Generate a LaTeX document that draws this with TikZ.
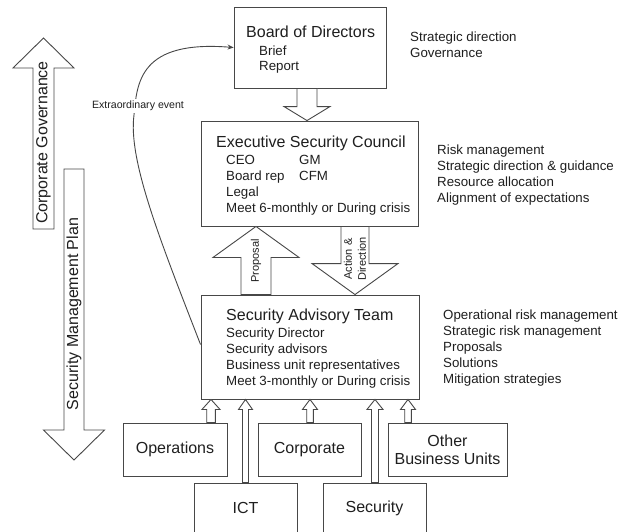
\documentclass[tikz,border=0pt]{standalone}
\usepackage{fontspec}
\setmainfont{Liberation Sans}
\usetikzlibrary{calc,arrows.meta}

\definecolor{linegray}{gray}{0.28}
\definecolor{ink}{gray}{0.12}

\tikzset{
  line/.style={draw=linegray, line width=0.9pt},
  box/.style={line, rectangle, inner sep=0pt, fill=white},
  barrow/.style={line, fill=white, line join=miter},
  title/.style={font=\fontsize{16}{18}\selectfont, text=ink, inner sep=0pt, anchor=base west},
  body/.style={font=\fontsize{13.3}{16}\selectfont, text=ink, inner sep=0pt, anchor=base west},
  unit/.style={box, font=\fontsize{16}{18}\selectfont, text=ink, align=center},
  arrowlabel/.style={font=\fontsize{11}{14}\selectfont, text=ink, inner sep=0pt, rotate=90, align=center},
  sidelabel/.style={font=\fontsize{16}{18}\selectfont, text=ink, inner sep=0pt, rotate=90},
  eventlabel/.style={font=\fontsize{10.6}{12}\selectfont, text=ink, fill=white, inner sep=2pt},
}

% hollow block arrow: [style]{tail}{tip}{shaft half-width}{head half-width}{head length}
\newcommand\blockarrow[6][]{%
  \draw[barrow,#1] let \p1=(#2), \p2=(#3), \p3=($(#3)!#6pt!(#2)$) in
    (\x1-#4pt,\y1) -- (\x1-#4pt,\y3) -- (\x1-#5pt,\y3) -- (\x2,\y2)
    -- (\x1+#5pt,\y3) -- (\x1+#4pt,\y3) -- (\x1+#4pt,\y1) -- cycle;}

\begin{document}
\begin{tikzpicture}[x=1pt,y=-1pt]
\useasboundingbox (0,0) rectangle (618,531);
\fill[white] (0,0) rectangle (618,531);
\clip (0,0) rectangle (618,531);

% governance bodies
\node[box, minimum width=152pt, minimum height=81pt] (bod) at (310,47.5) {};
\node[box, minimum width=217pt, minimum height=105pt] (esc) at (309.5,173.5) {};
\node[box, minimum width=218pt, minimum height=104pt] (sat) at (310,347) {};

% business units
\node[unit, minimum width=104pt, minimum height=53pt] (ops) at (175,449.5) {Operations};
\node[unit, minimum width=103pt, minimum height=53pt] (corp) at (309.5,449.5) {Corporate};
\node[unit, minimum width=119pt, minimum height=53pt] (other) at (447.5,449.5) {Other\\Business Units};
\node[unit, minimum width=103pt, minimum height=50pt] (ict) at (245.5,508) {ICT};
\node[unit, minimum width=103pt, minimum height=50pt] (sec) at (374.5,508) {Security};

% box contents
\node[title] (bod-t) at (246,37.5) {Board of Directors};
\node[body] (bod-1) at (259,55) {Brief};
\node[body] (bod-2) at (259,70) {Report};

\node[title] (esc-t) at (216,147.5) {Executive Security Council};
\foreach \t [count=\i] in {CEO, Board rep, Legal, Meet 6-monthly or During crisis}
  \node[body] (esc-\i) at (226,{164+16*(\i-1)}) {\t};
\node[body] (esc-gm) at (299,164) {GM};
\node[body] (esc-cfm) at (299,180) {CFM};

\node[title] (sat-t) at (226,320.5) {Security Advisory Team};
\foreach \t [count=\i] in {Security Director, Security advisors, Business unit representatives, Meet 3-monthly or During crisis}
  \node[body] (sat-\i) at (226,{337+16*(\i-1)}) {\t};

% roles
\foreach \t [count=\i] in {Strategic direction, Governance}
  \node[body] (role-bod-\i) at (410,{41.5+15.5*(\i-1)}) {\t};
\foreach \t [count=\i] in {Risk management, Strategic direction \& guidance, Resource allocation, Alignment of expectations}
  \node[body] (role-esc-\i) at (437,{154.5+16*(\i-1)}) {\t};
\foreach \t [count=\i] in {Operational risk management, Strategic risk management, Proposals, Solutions, Mitigation strategies}
  \node[body] (role-sat-\i) at (443,{319.5+16*(\i-1)}) {\t};

% block arrows between bodies
\coordinate (xa) at (307,0);
\coordinate (xp) at (256,0);
\coordinate (xd) at (355,0);
\blockarrow{bod.south -| xa}{esc.north -| xa}{10}{23}{14}
\blockarrow{sat.north -| xp}{esc.south -| xp}{15}{43}{31}
\blockarrow{esc.south -| xd}{sat.north -| xd}{14}{43}{31}
\node[arrowlabel] (prop) at (256,261) {Proposal};
\node[arrowlabel] (actdir) at (355,259) {Action \&\\Direction};

% unit inputs
\coordinate (xo) at (211,0);
\coordinate (xi) at (245.5,0);
\coordinate (xc) at (310,0);
\coordinate (xs) at (375,0);
\coordinate (xb) at (408,0);
\blockarrow{ops.north -| xo}{sat.south -| xo}{4.3}{9}{10}
\blockarrow{ict.north -| xi}{sat.south -| xi}{3}{7}{10}
\blockarrow{corp.north -| xc}{sat.south -| xc}{3.3}{7.5}{10}
\blockarrow{sec.north -| xs}{sat.south -| xs}{3.5}{8}{10}
\blockarrow{other.north -| xb}{sat.south -| xb}{3.3}{7.5}{10}

% escalation path
\draw[line, -{Stealth[length=6pt,width=5pt]}]
  ([yshift=-50pt]sat.north west) .. controls (160,240) and (128,160) .. (134,115)
  .. controls (137,82) and (140,40) .. (bod.west);
\node[eventlabel] (evt) at (138,106) {Extraordinary event};

% plan axes
\coordinate (cg-tail) at (43.5,229);
\coordinate (cg-tip) at (43.5,38);
\coordinate (smp-tail) at (74,169);
\coordinate (smp-tip) at (74,460);
\blockarrow{cg-tail}{cg-tip}{10.5}{30.5}{30}
\blockarrow{smp-tail}{smp-tip}{10}{30.5}{30}
\node[sidelabel] (cg) at (43.5,142.5) {Corporate Governance};
\node[sidelabel] (smp) at (74,314) {Security Management Plan};
\end{tikzpicture}
\end{document}
